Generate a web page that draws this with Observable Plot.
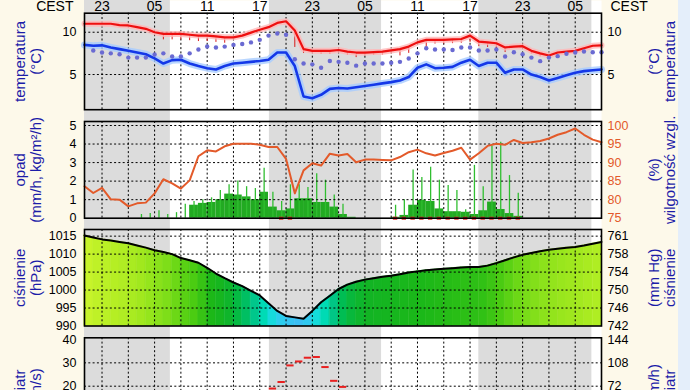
<!DOCTYPE html>
<html><head><meta charset="utf-8">
<script src="https://cdn.jsdelivr.net/npm/d3@7"></script>
<script src="https://cdn.jsdelivr.net/npm/@observablehq/plot@0.6"></script>
<style>
html,body{margin:0;padding:0;background:#fdf9ea;}
#wrap{position:relative;width:690px;height:390px;overflow:hidden;background:#fdf9ea;}
#wrap svg{position:absolute;left:0;top:0;background:transparent !important;overflow:visible;font-family:"Liberation Sans",Arial,sans-serif;max-width:none;}
#strip{position:absolute;left:678px;top:0;width:12px;height:390px;background:#e4eefa;}
</style></head><body><div id="wrap"><div id="strip"></div></div>
<script>
// ---------- time axis (hour 0 = 21:00 CEST, first day) ----------
const hours = d3.range(60);
const hourLabels = ["23","05","11","17","23","05","11","17","23","05"];
const hourLabelAt = [2,8,14,20,26,32,38,44,50,56];
const gridHours = d3.range(2, 59, 3);
const nightStart = [0, 21.1, 45.0];
const nightEnd = [9.8, 33.9, 57.9];
const zoneLabel = ["CEST"];

// ---------- temperature (°C) ----------
const tempRed = [11.0,11.0,11.0,11.0,10.85,10.8,10.6,10.4,10.0,9.8,
  9.8,9.8,9.7,9.6,9.6,9.5,9.4,9.4,9.6,9.95,
  10.3,10.6,11.1,11.3,10.2,8.0,7.8,7.8,7.8,7.9,
  7.7,7.6,7.6,7.65,7.7,7.85,8.0,8.3,8.8,9.1,
  9.1,9.1,9.15,9.2,9.6,8.9,8.8,8.7,8.2,8.3,
  8.35,7.8,7.5,7.25,7.6,7.7,7.8,8.1,8.4,8.45];
const tempBlue = [8.5,8.4,8.45,8.2,8.0,7.8,7.6,7.4,6.9,6.3,
  6.7,6.75,6.3,6.0,5.75,5.6,6.0,6.3,6.4,6.5,
  6.6,6.75,7.6,7.6,6.0,2.4,2.2,2.6,3.3,3.4,
  3.35,3.5,3.65,3.8,3.95,4.1,4.3,4.7,5.8,6.2,
  5.75,5.8,5.9,6.4,6.75,6.0,6.4,6.4,5.2,5.6,
  5.6,5.0,4.7,4.3,4.6,4.9,5.2,5.4,5.5,5.6];
const tempDots = [null,7.84,7.6,7.5,7.4,7.0,7.0,7.0,7.37,7.5,
  7.13,7.13,7.5,7.96,8.31,8.19,8.3,8.5,8.6,8.8,
  9.1,9.6,9.85,9.7,6.8,6.3,6.2,5.8,6.6,6.5,
  6.4,6.05,6.3,6.3,6.3,6.4,6.5,6.9,7.5,8.1,
  7.96,7.96,7.9,8.2,8.2,7.84,7.84,7.96,7.13,7.64,
  7.4,7.0,6.58,7.0,7.17,7.45,7.6,7.72,7.64,7.64];
const redTickDepth = [0,0,0,0,0,0,0,0,0,0.7,
  0.7,0.7,0.7,0.7,0.7,0.7,0.7,0,0,0,
  0,0,0,0,2.0,0.5,0.3,0.4,0.4,0,
  0.4,0.6,0.4,0.4,0.4,0.4,0.8,0.8,0,1.2,
  0.5,0.5,0.5,0.5,0.8,0.6,0.6,0.6,0.6,0,
  0,0.4,0.4,0,0,0,0,0,0,0];
const tempTicks = [5, 10];

// ---------- precipitation (mm/h) & humidity (%) ----------
const precipFill = [0,0,0,0,0,0,0,0,0,0,
  0,0,0.7,0.8,0.85,1.0,1.3,1.25,1.15,1.0,
  1.4,0.6,0.4,0.5,1.05,1.05,0.85,0.85,0.6,0.2,
  0.05,0,0,0,0,0.05,0.15,0.7,0.96,0.9,
  0.5,0.35,0.35,0.32,0.2,0.4,0.87,0.47,0.25,0.1,
  0,0,0,0,0,0,0,0,0,0];
const precipSpike = [0,0,0,0,0,0,0.2,0.25,0.4,0.2,
  0.3,0.75,0.9,1.0,1.1,1.5,1.8,2.0,1.7,1.6,
  2.7,1.4,0.9,1.8,1.8,1.65,2.4,2.05,1.25,0.75,
  0,0,0,0,0,0.7,1.0,2.6,2.2,2.75,
  2.05,1.77,1.5,0.45,2.85,1.7,3.9,4.1,2.3,1.35,
  0,0,0,0,0,0,0,0,0,0];
const humidity = [83.6,81.8,83.2,80.1,80.0,78.2,79.0,79.2,81.7,85.5,
  84.4,83.0,85.2,91.7,93.3,93.0,94.4,95.1,95.1,95.1,
  94.8,94.2,94.2,91.0,81.7,87.9,89.8,89.2,92.4,91.9,
  92.3,90.1,90.8,90.8,90.7,90.6,91.5,92.8,93.5,92.5,
  91.9,92.6,93.2,94.0,90.8,92.5,94.5,95.1,94.8,96.1,
  95.3,95.5,95.8,96.5,97.5,98.2,99.2,97.5,96.2,95.5];
const wetMarkHours = [22,23,35,36,37,38,39,40,41,42,43,44,45,46,47,48,49];
const precipTicks = [0,1,2,3,4,5];
const humTicks = [75,80,85,90,95,100];

// ---------- pressure (hPa) ----------
const pressure = [1015.2,1014.6,1014.1,1013.8,1013.4,1013.0,1012.4,1011.8,1011.1,1010.6,
  1010.0,1008.9,1008.3,1007.6,1006.2,1004.6,1003.3,1002.1,1001.1,999.8,
  998.5,996.3,994.2,992.8,992.4,992.0,994.2,996.6,998.4,1000.3,
  1001.5,1002.3,1002.9,1003.3,1003.7,1004.0,1004.4,1004.9,1005.2,1005.5,
  1005.7,1005.9,1006.1,1006.3,1006.4,1006.4,1006.8,1007.5,1008.3,1009.1,
  1009.8,1010.3,1010.8,1011.2,1011.5,1011.8,1012.0,1012.4,1012.9,1013.4];
const pressTicks = [990,995,1000,1005,1010,1015];
const mmHgLabels = ["742","746","750","754","758","761"];
const pressColorStops = [992,994.5,997,999,1001,1003,1005.5,1008,1010,1012,1015];
const pressColors = ["#3cbcf4","#20d8e8","#00e0c0","#00c890","#00bc50","#12b424","#1cb818","#4ccc12","#78dc18","#a0e81e","#c8f42a"];

// ---------- wind (m/s) ----------
const gustHours = [21,22,23,24,25,26,27,28,29];
const gustValues = [19.0,21.8,28.9,30.6,32.2,32.5,28.2,22.3,19.7];
const windTicks = [0,10,20,30,40];
const kmhLabels = ["0","36","72","108","144"];

// ---------- styling ----------
const titleBlue = "#1c1ca8";
const humColor = "#e35a2a";
const dotted = {stroke: "#000", strokeWidth: 1, strokeDasharray: "2,2.3"};
const tickFont = 12.5;

function grid(yTicks) {
  return [Plot.ruleY(yTicks, dotted), Plot.ruleX(gridHours, dotted)];
}
function leftTicks(ticks, labels) {
  return Plot.text(d3.range(ticks.length), {y: i => ticks[i], text: i => labels[i], frameAnchor: "left", textAnchor: "end", dx: -8, fontSize: tickFont});
}
function rightTicks(ticks, labels, fill = "#000") {
  return Plot.text(d3.range(ticks.length), {y: i => ticks[i], text: i => labels[i], frameAnchor: "right", textAnchor: "start", dx: 6, fontSize: tickFont, fill});
}
function titles(left, right) {
  return [
    Plot.text([left], {text: d => d, frameAnchor: "left", textAnchor: "middle", lineAnchor: "middle", rotate: -90, dx: -57, fill: titleBlue, fontSize: 15, lineHeight: 1.1}),
    Plot.text([right], {text: d => d, frameAnchor: "right", textAnchor: "middle", lineAnchor: "middle", rotate: -90, dx: 60, fill: titleBlue, fontSize: 15, lineHeight: 1.1})
  ];
}
function frame() { return Plot.frame({stroke: "#000", strokeWidth: 1.6}); }
function panel(cfg) {
  const H = cfg.height || 390;
  const opts = {
    width: 690, height: H,
    marginLeft: 84, marginRight: 89, marginTop: cfg.top, marginBottom: H - cfg.bottom,
    x: {domain: [0, 59], axis: null},
    y: {domain: cfg.domain, axis: null},
    marks: cfg.marks
  };
  if (cfg.color) opts.color = cfg.color;
  return Plot.plot(opts);
}

const wrap = document.getElementById("wrap");

// background: day/night bands + time labels
const nights = d3.range(nightStart.length);
wrap.appendChild(Plot.plot({
  width: 690, height: 390, marginLeft: 84, marginRight: 89, marginTop: 0, marginBottom: 0,
  x: {domain: [0, 59], axis: null}, y: {domain: [0, 1], axis: null},
  marks: [
    Plot.frame({fill: "#ffffff", stroke: null}),
    Plot.rect(nights, {x1: i => nightStart[i], x2: i => nightEnd[i], y1: 0, y2: 1, fill: "#dcdcdc"}),
    Plot.text(d3.range(hourLabels.length), {x: i => hourLabelAt[i], text: i => hourLabels[i], frameAnchor: "top", textAnchor: "middle", lineAnchor: "top", dy: 1, fontSize: 14}),
    Plot.text(zoneLabel, {text: d => d, frameAnchor: "top-left", textAnchor: "end", lineAnchor: "top", dx: -11, dy: 1, fontSize: 14}),
    Plot.text(zoneLabel, {text: d => d, frameAnchor: "top-right", textAnchor: "start", lineAnchor: "top", dx: 9, dy: 1, fontSize: 14})
  ]
}));

// temperature panel
wrap.appendChild(panel({
  top: 12.7, bottom: 109.2, domain: [0.84, 12.25],
  marks: [
    ...grid(tempTicks),
    Plot.ruleX(hours.filter(i => redTickDepth[i] > 0), {x: i => i, y1: i => tempRed[i], y2: i => tempRed[i] - redTickDepth[i], stroke: "#d81818", strokeWidth: 1}),
    Plot.line(hours, {x: i => i, y: i => tempRed[i], stroke: "#ffb8b8", strokeWidth: 6, strokeOpacity: 0.8}),
    Plot.line(hours, {x: i => i, y: i => tempRed[i], stroke: "#ee1010", strokeWidth: 2.2}),
    Plot.line(hours, {x: i => i, y: i => tempBlue[i], stroke: "#a8ccff", strokeWidth: 7, strokeOpacity: 0.8}),
    Plot.line(hours, {x: i => i, y: i => tempBlue[i], stroke: "#1438e8", strokeWidth: 2.6}),
    Plot.dot(hours.filter(i => tempDots[i] != null), {x: i => i, y: i => tempDots[i], r: 2.2, fill: "#6a6ad2", stroke: null}),
    frame(),
    leftTicks(tempTicks, tempTicks.map(String)),
    rightTicks(tempTicks, tempTicks.map(String)),
    ...titles("temperatura\n(°C)", "(°C)\ntemperatura")
  ]
}));

// precipitation / humidity panel
wrap.appendChild(panel({
  top: 121, bottom: 217.7, domain: [0, 5.216],
  marks: [
    Plot.rect(hours.filter(i => precipFill[i] > 0), {x1: i => i, x2: i => i + 1, y1: 0, y2: i => precipFill[i], fill: "#22aa22"}),
    Plot.ruleX(hours.filter(i => precipSpike[i] > 0), {x: i => i + 0.5, y1: 0, y2: i => precipSpike[i], stroke: "#30be30", strokeWidth: 1.3}),
    ...grid(precipTicks.filter(d => d > 0)),
    Plot.line(hours, {x: i => i, y: i => (humidity[i] - 75) / 5, stroke: humColor, strokeWidth: 2}),
    Plot.ruleY(wetMarkHours, {y: 0, x1: h => h + 0.25, x2: h => h + 0.75, stroke: "#e02020", strokeWidth: 3}),
    frame(),
    leftTicks(precipTicks, precipTicks.map(String)),
    rightTicks(humTicks.map(h => (h - 75) / 5), humTicks.map(String), humColor),
    ...titles("opad\n(mm/h, kg/m²/h)", "(%)\nwilgotność wzgl.")
  ]
}));

// pressure panel
const pressSeg = d3.range(59).flatMap(i => {
  const c = (pressure[i] + pressure[i + 1]) / 2;
  return [{h: i, p: pressure[i], s: i, c}, {h: i + 1, p: pressure[i + 1], s: i, c}];
});
wrap.appendChild(panel({
  top: 229, bottom: 325.5, domain: [990, 1016.85],
  color: {type: "linear", domain: pressColorStops, range: pressColors},
  marks: [
    Plot.areaY(pressSeg, {x: "h", y1: 990, y2: "p", z: "s", fill: "c", stroke: "c", strokeWidth: 0.6}),
    ...grid(pressTicks.filter(d => d > 990)),
    Plot.line(hours, {x: i => i, y: i => pressure[i], stroke: "#000", strokeWidth: 2}),
    frame(),
    leftTicks(pressTicks, pressTicks.map(String)),
    rightTicks(pressTicks, mmHgLabels),
    ...titles("ciśnienie\n(hPa)", "(mm Hg)\nciśnienie")
  ]
}));

// wind panel (cut off by the window)
wrap.appendChild(panel({
  height: 440, top: 337.3, bottom: 432.4, domain: [0, 40.73],
  marks: [
    ...grid([10, 20, 30]),
    Plot.ruleY(d3.range(gustHours.length), {y: i => gustValues[i], x1: i => gustHours[i] + 0.08, x2: i => gustHours[i] + 0.92, stroke: "#e82020", strokeWidth: 2}),
    frame(),
    leftTicks(windTicks, windTicks.map(String)),
    rightTicks(windTicks, kmhLabels),
    ...titles("wiatr\n(m/s)", "(km/h)\nwiatr")
  ]
}));
</script></body></html>
